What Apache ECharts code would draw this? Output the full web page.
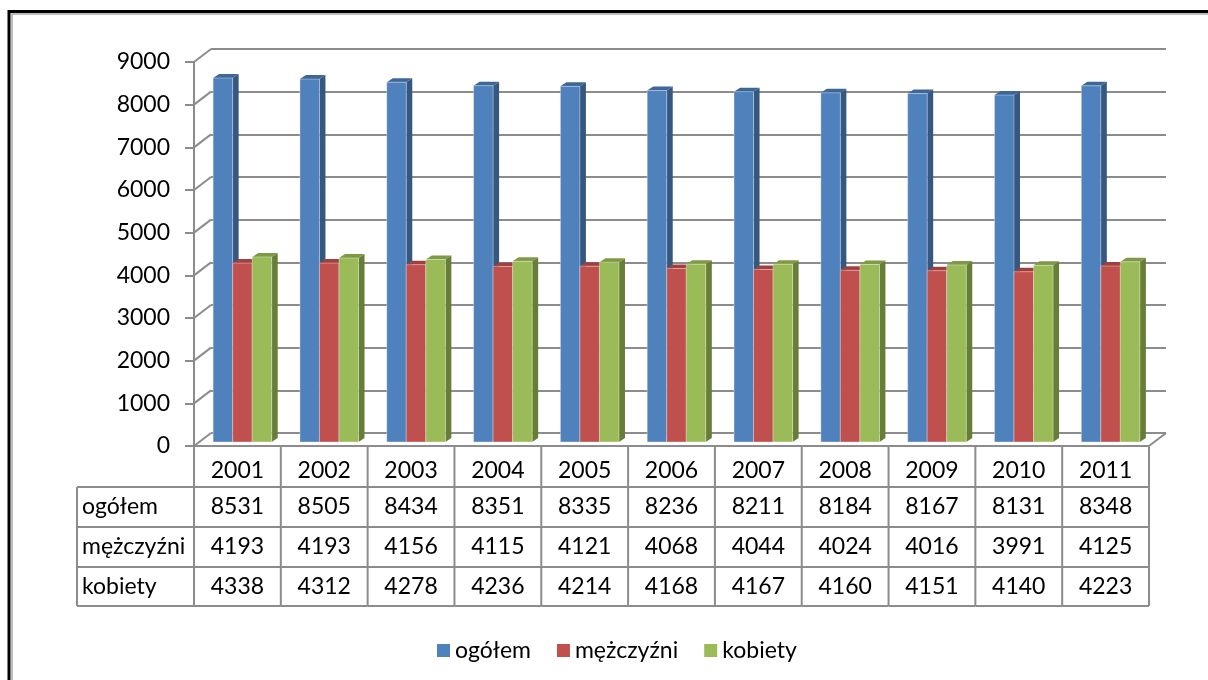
<!DOCTYPE html>
<html>
<head>
<meta charset="utf-8">
<script src="https://cdn.jsdelivr.net/npm/echarts@6/dist/echarts.min.js"></script>
<style>
  html, body { margin: 0; padding: 0; background: #fff; }
  #chart { width: 1208px; height: 680px; }
</style>
</head>
<body>
<div id="chart"></div>
<script>
// dane
const years = ['2001', '2002', '2003', '2004', '2005', '2006', '2007', '2008', '2009', '2010', '2011']
const ogolem = [8531, 8505, 8434, 8351, 8335, 8236, 8211, 8184, 8167, 8131, 8348]
const mezczyzni = [4193, 4193, 4156, 4115, 4121, 4068, 4044, 4024, 4016, 3991, 4125]
const kobiety = [4338, 4312, 4278, 4236, 4214, 4168, 4167, 4160, 4151, 4140, 4223]
const seriesNames = ['ogółem', 'mężczyźni', 'kobiety']
const yTicks = [0, 1000, 2000, 3000, 4000, 5000, 6000, 7000, 8000, 9000]

const FONT = 'Lato, "Open Sans", sans-serif'
const FS = 23
const LINE = '#8c8c8c'
const DEPTH = [17, -13]     // glebokosc sciany
const BAR_SHIFT = [5, -4]   // przesuniecie slupkow w glab
const BAR_DEPTH = [6, -4]   // glebokosc slupka

const faces = [
  { front: '#4F81BD', side: '#36587F', top: '#3E6696' },
  { front: '#C0504D', side: '#8E3937', top: '#A0403E' },
  { front: '#9BBB59', side: '#677E39', top: '#7E9A45' }
]
const values = [ogolem, mezczyzni, kobiety]

const GRID = { left: 194, right: 59, top: 62, bottom: 234 }

let chart = echarts.init(document.getElementById('chart'))

function barRender(k) {
  return function (params, api) {
    const band = api.size([1, 0])[0]
    const bw = band * 0.225
    const base = api.coord([api.value(0), 0])
    const top = api.coord([api.value(0), api.value(1)])
    const x0 = base[0] - 1.5 * bw + k * bw + BAR_SHIFT[0]
    const x1 = x0 + bw
    const yb = base[1] + BAR_SHIFT[1]
    const yt = top[1] + BAR_SHIFT[1]
    const dx = BAR_DEPTH[0], dy = BAR_DEPTH[1]
    const c = faces[k]
    return {
      type: 'group',
      children: [
        { type: 'polygon', shape: { points: [[x1, yb], [x1 + dx, yb + dy], [x1 + dx, yt + dy], [x1, yt]] }, style: { fill: c.side } },
        { type: 'polygon', shape: { points: [[x0, yt], [x1, yt], [x1 + dx, yt + dy], [x0 + dx, yt + dy]] }, style: { fill: c.top } },
        { type: 'rect', shape: { x: x0, y: yt, width: bw, height: yb - yt }, style: { fill: c.front, stroke: 'rgba(255,255,255,0.35)', lineWidth: 1 } }
      ]
    }
  }
}

// ukosne linie przy scianie bocznej
function depthRender(params, api) {
  const cs = params.coordSys
  const y = api.coord([0, api.value(0)])[1]
  const children = [
    { type: 'line', shape: { x1: cs.x, y1: y, x2: cs.x + DEPTH[0], y2: y + DEPTH[1] }, style: { stroke: LINE, lineWidth: 2 } }
  ]
  if (params.dataIndex === 0) {
    const xr = cs.x + cs.width
    children.push({ type: 'line', shape: { x1: xr, y1: y, x2: xr + DEPTH[0], y2: y + DEPTH[1] }, style: { stroke: LINE, lineWidth: 2 } })
  }
  return { type: 'group', children: children }
}

// tabela danych pod wykresem
const ROW_H = [40, 40, 40, 39]
function tableRender(params, api) {
  const cs = params.coordSys
  const i = params.dataIndex
  const band = api.size([1, 0])[0]
  const cx = api.coord([i, 0])[0]
  const xl = cx - band / 2, xr = cx + band / 2
  const y0 = cs.y + cs.height + 1
  const rows = [y0]
  ROW_H.forEach(h => rows.push(rows[rows.length - 1] + h))
  const textStyle = (t, x, y, align) => ({
    type: 'text', x: x, y: y,
    style: { text: t, fill: '#000', font: FS + 'px ' + FONT, align: align || 'center', verticalAlign: 'middle' }
  })
  const ln = (x1, y1, x2, y2) => ({ type: 'line', shape: { x1, y1, x2, y2 }, style: { stroke: LINE, lineWidth: 2 } })
  const children = [ln(xr, rows[0], xr, rows[4])]
  for (let r = 1; r <= 4; r++) children.push(ln(xl, rows[r], xr, rows[r]))
  children.push(textStyle(years[i], cx, (rows[0] + rows[1]) / 2 + 4))
  for (let s = 0; s < 3; s++) {
    children.push(textStyle(String(values[s][i]), cx, (rows[s + 1] + rows[s + 2]) / 2))
  }
  if (i === 0) {
    const xL = 77
    children.push(ln(xl, rows[0], xl, rows[4]))
    children.push(ln(xL, rows[1], xL, rows[4]))
    for (let r = 1; r <= 4; r++) children.push(ln(xL, rows[r], xl, rows[r]))
    for (let s = 0; s < 3; s++) {
      children.push(textStyle(seriesNames[s], xL + 5, (rows[s + 1] + rows[s + 2]) / 2, 'left'))
    }
  }
  return { type: 'group', children: children }
}

let option = {
  animation: false,
  backgroundColor: '#fff',
  grid: [
    GRID,
    { left: GRID.left + DEPTH[0], right: GRID.right - DEPTH[0], top: GRID.top + DEPTH[1], bottom: GRID.bottom - DEPTH[1] }
  ],
  xAxis: [
    {
      type: 'category', gridIndex: 0, data: years, boundaryGap: true,
      axisLine: { show: true, lineStyle: { color: LINE, width: 2 } },
      axisTick: { show: false }, axisLabel: { show: false }
    },
    {
      type: 'category', gridIndex: 1, data: years, show: false
    }
  ],
  yAxis: [
    {
      type: 'value', gridIndex: 0, min: 0, max: 9000, interval: 1000,
      axisLine: { show: true, lineStyle: { color: LINE, width: 2 } },
      axisTick: { show: true, length: 9, lineStyle: { color: LINE, width: 2 } },
      axisLabel: { color: '#000', fontSize: FS, fontFamily: FONT, margin: 24, formatter: v => String(v) },
      splitLine: { show: false }
    },
    {
      type: 'value', gridIndex: 1, min: 0, max: 9000, interval: 1000,
      axisLine: { show: false }, axisTick: { show: false }, axisLabel: { show: false },
      splitLine: { show: true, lineStyle: { color: LINE, width: 2 } }
    }
  ],
  legend: {
    data: seriesNames,
    left: 432, top: 634,
    icon: 'rect', itemWidth: 13, itemHeight: 13, itemGap: 26,
    textStyle: { color: '#000', fontSize: FS, fontFamily: FONT }
  },
  graphic: [
    { type: 'rect', shape: { x: 9, y: 11.5, width: 1400, height: 900 }, style: { fill: null, stroke: '#000', lineWidth: 3 } },
    { type: 'rect', shape: { x: 12, y: 14, width: 1400, height: 900 }, style: { fill: null, stroke: '#a8a8a8', lineWidth: 1.5 } }
  ],
  series: [
    {
      type: 'custom', name: 'depth', xAxisIndex: 0, yAxisIndex: 0,
      data: yTicks.map(v => [v]), renderItem: depthRender, silent: true
    },
    {
      type: 'custom', name: 'table', xAxisIndex: 0, yAxisIndex: 0,
      data: years.map((y, i) => [i]), renderItem: tableRender, silent: true
    }
  ].concat(seriesNames.map((name, k) => ({
    type: 'custom', name: name, xAxisIndex: 0, yAxisIndex: 0,
    itemStyle: { color: faces[k].front },
    data: values[k].map((v, i) => [i, v]),
    renderItem: barRender(k)
  })))
}

chart.setOption(option)
</script>
</body>
</html>
